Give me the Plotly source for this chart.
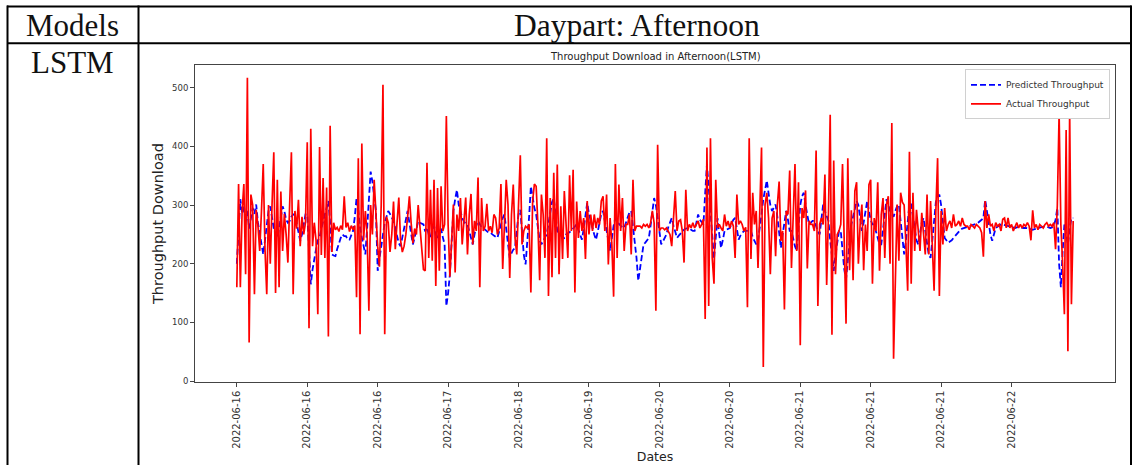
import plotly.graph_objects as go

W, H = 1134, 469

header_left = "Models"
header_right = "Daypart: Afternoon"
row_label = "LSTM"
chart_title = "Throughput Download in Afternoon(LSTM)"
date_labels = ["2022-06-16", "2022-06-16", "2022-06-16", "2022-06-17", "2022-06-18", "2022-06-19",
               "2022-06-20", "2022-06-20", "2022-06-21", "2022-06-21", "2022-06-21", "2022-06-22"]
tick_step = 40

actual = [
    160,336,160,290,336,182,517,66,318,300,
    148,292,265,222,290,370,225,148,300,200,
    300,390,150,343,160,323,222,285,250,202,
    300,390,148,290,260,309,230,280,250,270,
    407,90,430,230,270,240,114,399,215,346,
    210,330,76,435,220,270,258,262,255,265,
    258,315,262,270,255,265,258,265,143,380,
    80,405,240,290,250,120,300,250,343,280,
    230,195,300,505,80,280,270,220,250,306,
    225,270,313,240,220,230,250,280,315,270,
    235,260,250,300,260,235,190,
    188,372,210,326,205,343,162,329,188,332,
    256,267,452,267,178,240,301,185,284,256,
    312,233,270,313,216,284,319,233,273,256,
    347,160,312,256,264,302,256,264,253,284,
    278,250,261,336,191,284,343,301,176,284,
    335,244,216,301,385,233,256,264,261,267,
    151,307,336,332,267,172,318,284,210,414,
    145,312,177,355,210,369,182,298,208,324,
    267,210,351,256,360,151,306,244,290,256,
    278,208,307,250,284,256,284,261,278,267,
    307,315,256,318,199,278,233,144,370,210,
    335,256,312,222,267,267,284,216,343,256,
    264,264,264,261,267,264,267,261,270,290,
    270,
    120,403,256,261,261,258,261,256,250,230,
    278,324,256,273,275,256,202,326,256,267,
    261,270,261,267,273,261,267,276,106,398,
    128,414,210,166,343,261,267,261,256,284,
    264,273,261,273,264,210,318,267,273,267,
    256,262,126,414,208,321,267,290,193,290,
    398,24,301,321,278,182,278,290,213,301,
    340,239,256,122,290,284,359,193,284,370,
    222,339,61,295,278,325,192,273,267,267,
    256,393,128,267,278,267,352,164,284,454,
    79,376,182,250,256,267,370,210,98,380,
    189,291,172,324,339,200,267,301,189,267,
    222,335,343,166,278,256,339,188,284,312,
    210,
    301,315,200,440,38,200,301,205,321,305,
    300,233,154,391,166,321,222,292,256,222,
    287,250,216,318,216,307,239,154,290,380,
    145,290,233,295,256,267,273,261,284,264,
    267,273,264,278,267,264,264,258,267,264,
    261,267,264,261,253,212,307,261,284,264,
    267,256,270,264,267,256,276,278,261,278,
    261,267,256,264,270,261,267,261,267,264,
    270,264,240,291,261,267,258,267,264,261,
    267,270,264,267,264,270,225,300,456,267,
    200,114,428,51,460,131,273,
]

predicted = [
    200,255,310,285,300,270,290,260,280,295,
    285,301,270,250,230,216,240,270,290,298,
    280,260,250,244,260,280,298,290,275,270,
    273,280,284,284,270,250,239,250,270,284,
    284,230,165,190,210,225,240,244,260,275,
    284,295,307,270,216,214,213,225,235,244,
    250,247,247,241,241,248,256,280,312,290,
    261,245,230,216,260,320,357,340,310,290,
    188,210,235,256,270,280,290,285,278,273,
    260,245,235,230,245,265,280,290,270,250,
    233,245,260,273,270,268,267,
    255,262,250,245,258,265,250,242,255,260,
    245,233,128,150,182,240,290,310,326,301,
    290,278,272,268,267,255,245,233,250,265,
    273,268,262,261,258,255,253,253,250,248,
    246,244,255,268,278,284,260,230,210,218,
    224,227,260,285,292,250,215,199,233,280,
    332,310,295,284,260,240,233,240,245,250,
    270,290,305,312,285,256,250,248,245,244,
    250,252,254,256,260,264,267,258,248,241,
    260,285,304,285,270,261,250,241,255,270,
    285,290,275,256,240,222,245,265,278,272,
    268,265,262,261,270,280,288,290,265,244,
    210,171,190,215,233,236,240,244,265,290,
    312,
    300,278,256,233,238,244,250,262,272,278,
    265,252,244,248,252,256,258,260,261,261,
    258,256,256,270,284,275,270,267,320,369,
    330,284,240,208,245,278,250,227,240,256,
    258,260,261,268,275,278,260,241,248,252,
    256,256,256,256,256,245,238,233,240,260,
    284,310,330,342,320,300,290,295,301,280,
    250,227,250,275,290,275,256,256,240,230,
    222,260,300,315,321,300,280,267,270,273,
    273,262,255,250,275,301,290,280,273,240,
    210,188,215,240,256,256,220,190,174,210,
    240,267,280,295,307,300,280,256,270,290,
    307,290,275,267,267,255,245,233,233,260,
    290,
    310,300,290,285,280,290,298,301,270,240,
    216,240,275,301,301,280,255,240,233,255,
    270,278,260,235,215,210,240,275,305,315,
    318,300,265,244,240,236,238,240,244,248,
    252,256,258,260,261,261,262,263,264,265,
    266,268,270,272,275,278,309,290,267,250,
    239,250,261,263,265,267,267,266,265,264,
    263,262,261,261,262,263,262,261,261,261,
    261,260,259,258,259,260,261,262,263,264,
    264,263,262,261,262,265,275,295,200,160,
    220,267,250,233,260,278,278,
]


def px(x):
    return x / W


def py(y):
    return 1 - y / H


x_pred = list(range(len(predicted)))
x_act = list(range(len(actual)))
n_last = max(len(actual), len(predicted)) - 1
tickvals = [i * tick_step for i in range(len(date_labels))]

fig = go.Figure()
fig.add_trace(go.Scatter(
    x=x_pred, y=predicted, mode="lines", name="Predicted Throughput",
    line=dict(color="#0000ff", width=1.8, dash="6px,3px"),
))
fig.add_trace(go.Scatter(
    x=x_act, y=actual, mode="lines", name="Actual Throughput",
    line=dict(color="#ff0000", width=1.7),
))

axis_col = "#444444"

fig.update_layout(
    width=W, height=H,
    margin=dict(l=0, r=0, t=0, b=0),
    paper_bgcolor="white", plot_bgcolor="white",
    showlegend=True,
    legend=dict(
        x=px(1110), y=py(70), xanchor="right", yanchor="top",
        bgcolor="white", bordercolor="#d0d0d0", borderwidth=1,
        font=dict(family="DejaVu Sans", size=9, color="#333333"),
        itemwidth=30, tracegroupgap=0,
    ),
    xaxis=dict(
        domain=[px(195), px(1115)],
        range=[-0.05 * n_last, 1.05 * n_last],
        tickmode="array", tickvals=tickvals, ticktext=date_labels,
        tickangle=-90, ticks="outside", ticklen=4, tickcolor=axis_col,
        showline=True, linecolor=axis_col, linewidth=1, mirror=True,
        showgrid=False, zeroline=False,
        tickfont=dict(family="DejaVu Sans", size=10, color="#333333"),
        title=dict(text="Dates", font=dict(family="DejaVu Sans", size=12.5, color="#222222"), standoff=3),
    ),
    yaxis=dict(
        domain=[py(385), py(66)],
        range=[-1, 538],
        tickmode="array", tickvals=[0, 100, 200, 300, 400, 500],
        ticks="outside", ticklen=4, tickcolor=axis_col,
        showline=True, linecolor=axis_col, linewidth=1, mirror=True,
        showgrid=False, zeroline=False,
        tickfont=dict(family="DejaVu Sans", size=8.5, color="#333333"),
        title=dict(text="Throughput Download", font=dict(family="DejaVu Sans", size=14.5, color="#222222"), standoff=4),
    ),
)

line_style = dict(color="black", width=2)
shapes = [
    dict(type="line", xref="paper", yref="paper", x0=px(7), x1=px(1131.5), y0=py(6.5), y1=py(6.5), line=line_style),
    dict(type="line", xref="paper", yref="paper", x0=px(7), x1=px(1131.5), y0=py(43.5), y1=py(43.5), line=line_style),
    dict(type="line", xref="paper", yref="paper", x0=px(7.5), x1=px(7.5), y0=py(5.5), y1=py(469), line=line_style),
    dict(type="line", xref="paper", yref="paper", x0=px(138.5), x1=px(138.5), y0=py(5.5), y1=py(469), line=line_style),
    dict(type="line", xref="paper", yref="paper", x0=px(1131), x1=px(1131), y0=py(5.5), y1=py(469), line=line_style),
]
fig.update_layout(shapes=shapes)

serif = dict(family="Liberation Serif", size=31, color="#111111")
fig.add_annotation(text=header_left, x=px(72.5), y=py(26), xref="paper", yref="paper",
                   showarrow=False, xanchor="center", yanchor="middle", font=serif)
fig.add_annotation(text=header_right, x=px(637), y=py(26), xref="paper", yref="paper",
                   showarrow=False, xanchor="center", yanchor="middle",
                   font=dict(family="Liberation Serif", size=31.5, color="#111111"))
fig.add_annotation(text=row_label, x=px(72.5), y=py(63.5), xref="paper", yref="paper",
                   showarrow=False, xanchor="center", yanchor="middle", font=serif)
fig.add_annotation(text=chart_title, x=px(655), y=py(57), xref="paper", yref="paper",
                   showarrow=False, xanchor="center", yanchor="middle",
                   font=dict(family="DejaVu Sans", size=10, color="#222222"))

fig.write_html(
    "out.html",
    config={"displayModeBar": False},
    post_script="document.body.style.margin='0';document.body.style.overflow='hidden';",
)
